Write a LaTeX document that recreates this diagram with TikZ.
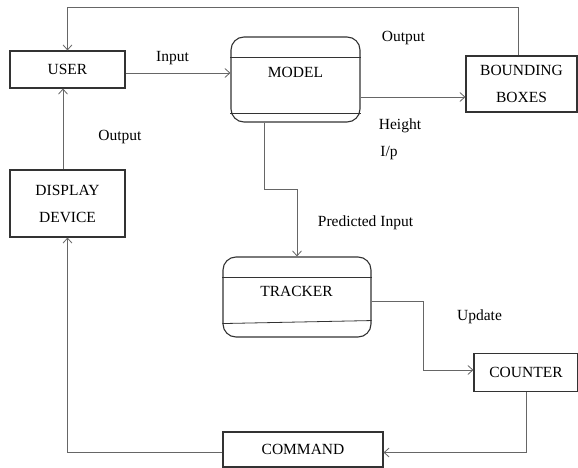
\documentclass[tikz,border=0pt]{standalone}
\usepackage{fontspec}
\setmainfont{Liberation Serif}
\usetikzlibrary{arrows.meta}
\begin{document}
\begin{tikzpicture}[x=1pt,y=-1pt]
	\tikzstyle{block} = [draw=black!80, line width=1.1pt, inner sep=0, align=center, font=\fontsize{15.5}{27}\selectfont]
	\tikzstyle{process} = [block, rounded corners=13pt]
	\tikzstyle{flow} = [draw=black!60, line width=0.8pt, -{Straight Barb[length=5pt,width=9pt]}]
	\tikzstyle{caption} = [inner sep=0, anchor=base, font=\fontsize{15.5}{18}\selectfont]
	\useasboundingbox (0,0) rectangle (578,468);

	\node [block, minimum width=115pt, minimum height=37pt] (user) at (67.5,69.5) {USER};
	\node [process, minimum width=129pt, minimum height=85pt] (model) at (295.5,79.5) {};
	\node [block, minimum width=111pt, minimum height=56pt] (bb) at (521.5,84) {BOUNDING\\BOXES};
	\node [block, minimum width=115pt, minimum height=67pt] (display) at (67.5,203.5) {DISPLAY\\DEVICE};
	\node [process, minimum width=148pt, minimum height=80pt] (tracker) at (297,297) {};
	\node [block, minimum width=104pt, minimum height=38pt] (counter) at (526,372.5) {COUNTER};
	\node [block, minimum width=160pt, minimum height=35pt] (command) at (303,449.5) {COMMAND};

	\node [caption] (modeltxt) at (295.5,77.5) {MODEL};
	\node [caption] (trackertxt) at (296.5,296) {TRACKER};
	\draw [draw=black!80, line width=0.8pt] ([yshift=-21pt]model.north west) -- ([yshift=-21pt]model.north east);
	\draw [draw=black!80, line width=0.8pt] ([yshift=9pt]model.south west) -- ([yshift=9pt]model.south east);
	\draw [draw=black!80, line width=0.8pt] ([yshift=-21pt]tracker.north west) -- ([yshift=-21pt]tracker.north east);
	\draw [draw=black!80, line width=0.8pt] ([yshift=14pt]tracker.south west) -- ([yshift=17pt]tracker.south east);

	\draw [flow] ([yshift=-3.5pt]user.east) coordinate (a) -- (a -| model.west);
	\draw [flow] ([yshift=-17.5pt]model.east) coordinate (b) -- (b -| bb.west);
	\draw [flow] ([xshift=-3.5pt]bb.north) |- ([yshift=43pt]user.north) -- (user.north);
	\draw [flow] ([xshift=-4.5pt]display.north) -- ([xshift=-4.5pt]user.south);
	\draw [flow] ([xshift=-31.5pt]model.south) |- ([yshift=67pt]tracker.north) -- (tracker.north);
	\draw [flow] ([yshift=-4pt]tracker.east) -- ++(52,0) |- ([yshift=2.5pt]counter.west);
	\draw [flow] (counter.south) |- ([yshift=-3pt]command.east);
	\draw [flow] ([yshift=-3pt]command.west) -| (display.south);

	\node [caption] (input) at (172.5,62) {Input};
	\node [caption] (outtop) at (403.5,42) {Output};
	\node [caption] (height) at (400,129.5) {Height};
	\node [caption] (ip) at (389,157) {I/p};
	\node [caption] (outleft) at (120,140) {Output};
	\node [caption] (predicted) at (365.5,226) {Predicted Input};
	\node [caption] (update) at (479.5,320) {Update};
\end{tikzpicture}
\end{document}
